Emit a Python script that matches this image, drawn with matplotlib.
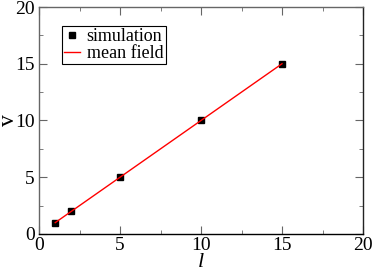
import matplotlib
matplotlib.use("Agg")
import matplotlib.pyplot as plt
from matplotlib.ticker import MultipleLocator

plt.rcParams["font.family"] = ["Liberation Serif", "DejaVu Serif"]

# data
l_sim = [1, 2, 5, 10, 15]
v_sim = [1, 2, 5, 10, 15]
l_mf = [1, 15]
v_mf = [1, 15]

fig = plt.figure(figsize=(3.74, 2.72), dpi=100)
ax = fig.add_axes([39 / 374, 1 - 234 / 272, 324 / 374, 227 / 272])

ax.plot(l_sim, v_sim, "s", color="black", ms=5, ls="none", label="simulation", zorder=2)
ax.plot(l_mf, v_mf, color="red", lw=1.0, label="mean field", zorder=3)

ax.set_xlim(0, 20)
ax.set_ylim(0, 20)
ax.xaxis.set_major_locator(MultipleLocator(5))
ax.yaxis.set_major_locator(MultipleLocator(5))
ax.xaxis.set_minor_locator(MultipleLocator(2.5))
ax.yaxis.set_minor_locator(MultipleLocator(2.5))
ax.tick_params(which="both", direction="in", top=True, right=True, color="#666666",
               labelsize=14)
ax.tick_params(which="major", length=6)
ax.tick_params(which="minor", length=3)
ax.tick_params(axis="x", pad=2)
ax.tick_params(axis="y", pad=3)
for s in ax.spines.values():
    s.set_linewidth(1.0)
ax.spines["left"].set_color("#666666")
ax.spines["top"].set_color("#666666")
ax.spines["right"].set_color("#222222")

# axis labels
ax.set_xlabel("l", style="italic", fontsize=16)
ax.xaxis.set_label_coords(0.5, -0.085)
ax.xaxis.label.set_va("top")
ax.set_ylabel("v", fontsize=17)
ax.yaxis.set_label_coords(-0.063, 0.5)

leg = ax.legend(loc="upper left", bbox_to_anchor=(0.071, 0.917),
                prop={"size": 13}, fancybox=False, edgecolor="black", framealpha=1,
                handlelength=0.9, handletextpad=0.35, borderpad=0.12, labelspacing=0.0,
                borderaxespad=0)
leg.get_frame().set_linewidth(0.8)

fig.savefig("out.png", dpi=100)
